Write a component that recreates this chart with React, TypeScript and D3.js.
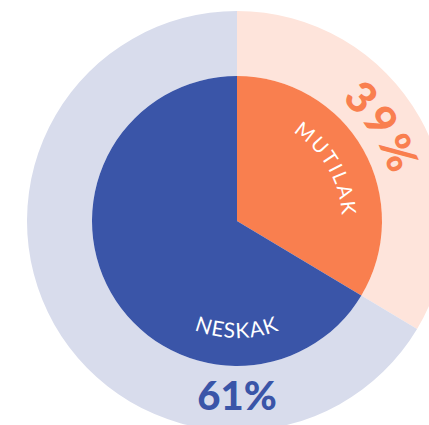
import * as d3 from 'd3';

const W = 429;
const H = 425;
const CX = 237;
const CY = 221;
const PIE_R = 145;
const RING_R = 210;

// slices as drawn (angle) and their printed labels
const categories = ['MUTILAK', 'NESKAK'];
const shares = [33.6, 66.4];
const percentLabels = ['39%', '61%'];

const SLICE_COLORS = ['#f97f4f', '#3a55a8'];
const RING_COLORS = ['#fee4db', '#d8dcec'];

const toRad = (deg: number) => (deg * Math.PI) / 180;
const pt = (r: number, deg: number) => [r * Math.sin(toRad(deg)), -r * Math.cos(toRad(deg))];

// arc for text; clockwise when sweep = 1
function arcPath(r: number, a0: number, a1: number, sweep: number) {
  const [x0, y0] = pt(r, a0);
  const [x1, y1] = pt(r, a1);
  return `M${x0},${y0} A${r},${r} 0 0 ${sweep} ${x1},${y1}`;
}

export default function App() {
  const pie = d3.pie<number>().sort(null).value((d) => d);
  const arcs = pie(shares);
  const ring = d3.arc<d3.PieArcDatum<number>>().innerRadius(PIE_R).outerRadius(RING_R);
  const inner = d3.arc<d3.PieArcDatum<number>>().innerRadius(0).outerRadius(PIE_R);

  return (
    <svg
      width={W}
      height={H}
      viewBox={`0 0 ${W} ${H}`}
      style={{ position: 'absolute', left: 0, top: 0, background: '#fff' }}
    >
      <defs>
        <path id="p-pct0" d={arcPath(160, 15, 100, 1)} />
        <path id="p-cat0" d={arcPath(105, 15, 105, 1)} />
        <path id="p-cat1" d={arcPath(117, 225, 135, 0)} />
      </defs>
      <g transform={`translate(${CX},${CY})`}>
        {arcs.map((a, i) => (
          <path key={'r' + i} d={ring(a) || ''} fill={RING_COLORS[i]} />
        ))}
        {arcs.map((a, i) => (
          <path key={'s' + i} d={inner(a) || ''} fill={SLICE_COLORS[i]} />
        ))}
        <text
          fill={SLICE_COLORS[0]}
          fontFamily="Lato, 'Open Sans', sans-serif"
          fontWeight={900}
          fontSize={43}
          letterSpacing={3}
        >
          <textPath href="#p-pct0" startOffset="50%" textAnchor="middle">
            {percentLabels[0]}
          </textPath>
        </text>
        <text
          fill="#fff"
          fontFamily="Lato, 'Open Sans', sans-serif"
          fontWeight={400}
          fontSize={20}
          letterSpacing={2}
        >
          <textPath href="#p-cat0" startOffset="50%" textAnchor="middle">
            {categories[0]}
          </textPath>
        </text>
        <text
          fill="#fff"
          fontFamily="Lato, 'Open Sans', sans-serif"
          fontWeight={400}
          fontSize={21}
          letterSpacing={1}
        >
          <textPath href="#p-cat1" startOffset="50%" textAnchor="middle">
            {categories[1]}
          </textPath>
        </text>
        <text
          x={0}
          y={189}
          textAnchor="middle"
          fill={SLICE_COLORS[1]}
          fontFamily="Lato, 'Open Sans', sans-serif"
          fontWeight={900}
          fontSize={40}
        >
          {percentLabels[1]}
        </text>
      </g>
    </svg>
  );
}
